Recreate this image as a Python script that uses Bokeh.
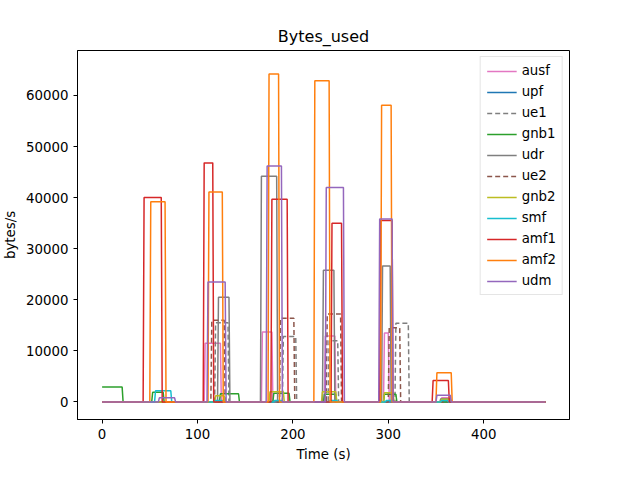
from bokeh.plotting import figure
from bokeh.models import Legend, LegendItem, Range1d
from bokeh.embed import file_html
from bokeh.resources import INLINE

# pulses per series: start time (s), end time (s), height (bytes/s)
ausf_start = [107, 167, 233, 295, 355]
ausf_end = [124, 178, 244, 300, 363]
ausf_h = [11500, 13700, 12900, 13500, 800]

upf_start = []
upf_end = []
upf_h = []

ue1_start = [118, 189, 237, 307]
ue1_end = [132, 203, 247, 321]
ue1_h = [15500, 12800, 12000, 15400]

gnb1_start = [0, 52, 123, 179, 232, 295]
gnb1_end = [21, 64, 143, 196, 245, 308]
gnb1_h = [2900, 1900, 1600, 1700, 1500, 1500]

udr_start = [121, 166, 231, 293, 354]
udr_end = [133, 183, 243, 302, 365]
udr_h = [20500, 44200, 25800, 26600, 600]

ue2_start = [114, 186, 235, 300]
ue2_end = [128, 201, 250, 312]
ue2_h = [16000, 16400, 17200, 14500]

gnb2_start = [118, 175, 230, 295, 355]
gnb2_end = [128, 190, 245, 305, 365]
gnb2_h = [1200, 2000, 2000, 1800, 500]

smf_start = [55, 118, 180, 238, 297, 355]
smf_end = [72, 126, 188, 246, 305, 362]
smf_h = [2200, 300, 300, 300, 300, 300]

amf1_start = [43, 106, 177, 240, 291, 346]
amf1_end = [62, 116, 194, 251, 304, 363]
amf1_h = [40000, 46800, 39700, 35000, 35500, 4200]

amf2_start = [50, 111, 174, 222, 292, 350]
amf2_end = [66, 126, 185, 238, 303, 366]
amf2_h = [39200, 41100, 64200, 62900, 58100, 5700]

udm_start = [59, 110, 172, 234, 290, 350]
udm_end = [76, 129, 188, 253, 304, 365]
udm_h = [800, 23500, 46200, 42000, 35800, 1300]

t_end = 465

series = [
    ("ausf", ausf_start, ausf_end, ausf_h, "#e377c2", "solid"),
    ("upf", upf_start, upf_end, upf_h, "#1f77b4", "solid"),
    ("ue1", ue1_start, ue1_end, ue1_h, "#7f7f7f", "5 3"),
    ("gnb1", gnb1_start, gnb1_end, gnb1_h, "#2ca02c", "solid"),
    ("udr", udr_start, udr_end, udr_h, "#7f7f7f", "solid"),
    ("ue2", ue2_start, ue2_end, ue2_h, "#8c564b", "5 3"),
    ("gnb2", gnb2_start, gnb2_end, gnb2_h, "#bcbd22", "solid"),
    ("smf", smf_start, smf_end, smf_h, "#17becf", "solid"),
    ("amf1", amf1_start, amf1_end, amf1_h, "#d62728", "solid"),
    ("amf2", amf2_start, amf2_end, amf2_h, "#ff7f0e", "solid"),
    ("udm", udm_start, udm_end, udm_h, "#9467bd", "solid"),
]


def build(starts, ends, hs):
    xs, ys = [0], [hs[0] if starts and starts[0] == 0 else 0]
    for s, e, h in zip(starts, ends, hs):
        if s == 0:
            xs += [e, e + 1]
            ys += [h, 0]
            continue
        xs += [s, s + 1, e, e + 1]
        ys += [0, h, h, 0]
    xs.append(t_end)
    ys.append(0)
    return xs, ys


p = figure(width=624, height=464, output_backend="svg", toolbar_location=None,
           title="Bytes_used", x_range=Range1d(-25.8, 490), y_range=Range1d(-3440, 68800),
           x_axis_label="Time (s)", y_axis_label="bytes/s",
           min_border_left=70, min_border_right=55, min_border_top=50, min_border_bottom=36)
p.title.align = "center"
p.title.text_font = "DejaVu Sans"
p.title.text_font_size = "12pt"
p.title.text_font_style = "normal"
p.title.text_color = "black"
p.grid.grid_line_color = None
p.outline_line_color = "black"
p.background_fill_color = "white"
for ax in [p.xaxis, p.yaxis]:
    ax.axis_label_text_font = "DejaVu Sans"
    ax.axis_label_text_font_size = "10pt"
    ax.axis_label_text_font_style = "normal"
    ax.axis_label_text_color = "black"
    ax.major_label_text_font = "DejaVu Sans"
    ax.major_label_text_font_size = "10pt"
    ax.major_label_text_color = "black"
    ax.axis_line_color = "black"
    ax.major_tick_line_color = "black"
    ax.minor_tick_line_color = None
    ax.major_tick_out = 4
    ax.major_tick_in = 0
p.xaxis.ticker = [0, 100, 200, 300, 400]
p.yaxis.ticker = [0, 10000, 20000, 30000, 40000, 50000, 60000]
p.yaxis.formatter.use_scientific = False

items = []
for name, st, en, hs, color, dash in series:
    xs, ys = build(st, en, hs)
    r = p.line(xs, ys, line_color=color, line_width=1.5, line_dash=dash)
    items.append(LegendItem(label=name, renderers=[r]))

legend = Legend(items=items, location="top_right", label_text_font="DejaVu Sans",
                label_text_font_size="10pt", label_text_color="black",
                border_line_color="#cccccc", glyph_width=30,
                glyph_height=12, label_height=12, spacing=6, padding=6, margin=6)
p.add_layout(legend, "center")

open("out.html", "w").write(file_html(p, INLINE))
